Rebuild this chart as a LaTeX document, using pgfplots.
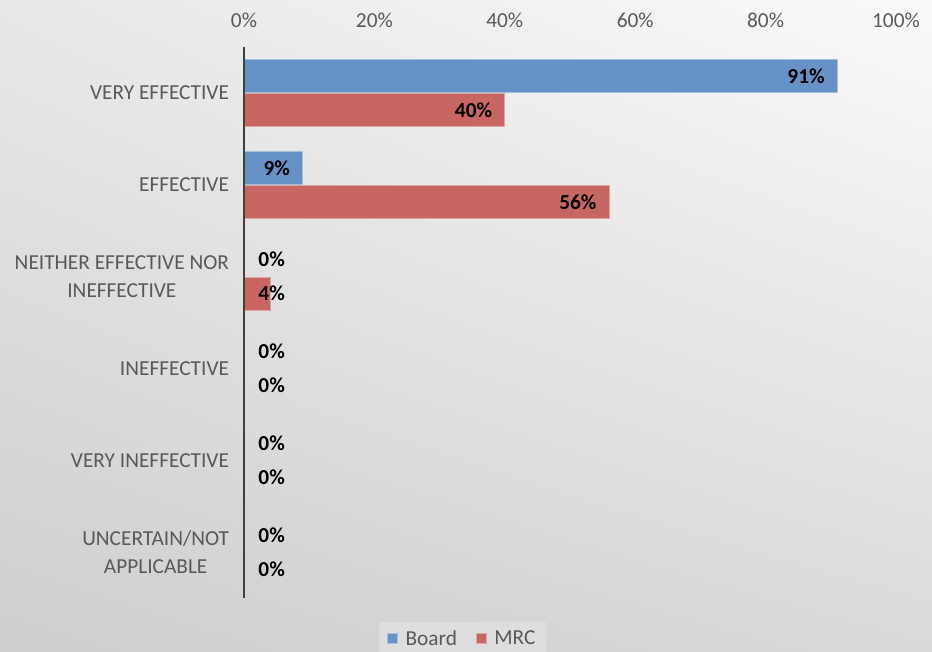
\documentclass[border=0pt]{standalone}
\usepackage{pgfplots}
\pgfplotsset{compat=1.18}
\usetikzlibrary{shadings}
\usepackage{fontspec}
\setmainfont{Carlito}
\definecolor{boardblue}{HTML}{6792C7}
\definecolor{mrcred}{HTML}{C86664}
\definecolor{txtgray}{HTML}{595959}
\definecolor{axisgray}{HTML}{404040}
\definecolor{legfill}{HTML}{DEDEDE}
\definecolor{bgul}{HTML}{E8E8E8}
\definecolor{bgur}{HTML}{FAFAFA}
\definecolor{bgll}{HTML}{CECECE}
\definecolor{bglr}{HTML}{DADADA}
\begin{document}
\begin{tikzpicture}
\useasboundingbox (0,0) rectangle (699pt,488.25pt);
\shade[upper left=bgul, upper right=bgur, lower left=bgll, lower right=bglr]
  (0,0) rectangle (699pt,488.25pt);
\begin{axis}[
  at={(183pt,39.75pt)}, anchor=south west,
  scale only axis, width=489pt, height=413.25pt,
  xmin=0, xmax=100, ymin=-0.5, ymax=5.5,
  xbar, bar width=24.75pt,
  separate axis lines,
  axis x line=top, axis y line=left,
  x axis line style={draw=none},
  y axis line style={axisgray, line width=2pt, -},
  axis on top,
  major tick length=0pt,
  xtick={0,20,40,60,80,100},
  xticklabel={\pgfmathprintnumber{\tick}\%},
  /pgf/number format/assume math mode=true,
  xticklabel style={anchor=base, yshift=15pt, text=txtgray, font=\fontsize{16}{19}\selectfont},
  ytick={0,1,2,3,4,5},
  yticklabels={{UNCERTAIN/NOT\\APPLICABLE},{VERY INEFFECTIVE},{INEFFECTIVE},{NEITHER EFFECTIVE NOR\\INEFFECTIVE},{EFFECTIVE},{VERY EFFECTIVE}},
  yticklabel style={align=center, anchor=east, inner sep=0pt, xshift=-11pt, text=txtgray, font=\fontsize{16}{21}\selectfont},
  legend style={at={(0.335,-0.074)}, anchor=center, draw=none, fill=legfill,
    legend columns=-1, font=\fontsize{16}{19}\selectfont, text=txtgray,
    /tikz/every odd column/.append style={column sep=4pt},
    /tikz/every even column/.append style={column sep=12pt},
    inner xsep=6pt, inner ysep=4pt},
  legend image code/.code={\fill[#1] (0pt,-3.75pt) rectangle (7.5pt,3.75pt);},
]
\addplot[xbar, bar shift=12.75pt, fill=boardblue, draw=boardblue!60!white, line width=0.6pt]
  coordinates {(91,5) (9,4) (0,3) (0,2) (0,1) (0,0)};
\addlegendentry{Board}
\addplot[xbar, bar shift=-12.75pt, fill=mrcred, draw=mrcred!60!white, line width=0.6pt]
  coordinates {(40,5) (56,4) (4,3) (0,2) (0,1) (0,0)};
\addlegendentry{MRC}
\addplot[xbar, bar shift=12.75pt, draw=none, fill=none, forget plot,
  nodes near coords, point meta=explicit symbolic,
  nodes near coords style={anchor=east, inner sep=0pt, text=black, font=\fontsize{16}{19}\bfseries\selectfont}]
  coordinates {(89.1,5)[91\%] (7.1,4)[9\%] (6.3,3)[0\%] (6.3,2)[0\%] (6.3,1)[0\%] (6.3,0)[0\%]};
\addplot[xbar, bar shift=-12.75pt, draw=none, fill=none, forget plot,
  nodes near coords, point meta=explicit symbolic,
  nodes near coords style={anchor=east, inner sep=0pt, text=black, font=\fontsize{16}{19}\bfseries\selectfont}]
  coordinates {(38.1,5)[40\%] (54.1,4)[56\%] (6.3,3)[4\%] (6.3,2)[0\%] (6.3,1)[0\%] (6.3,0)[0\%]};
\end{axis}
\end{tikzpicture}
\end{document}
